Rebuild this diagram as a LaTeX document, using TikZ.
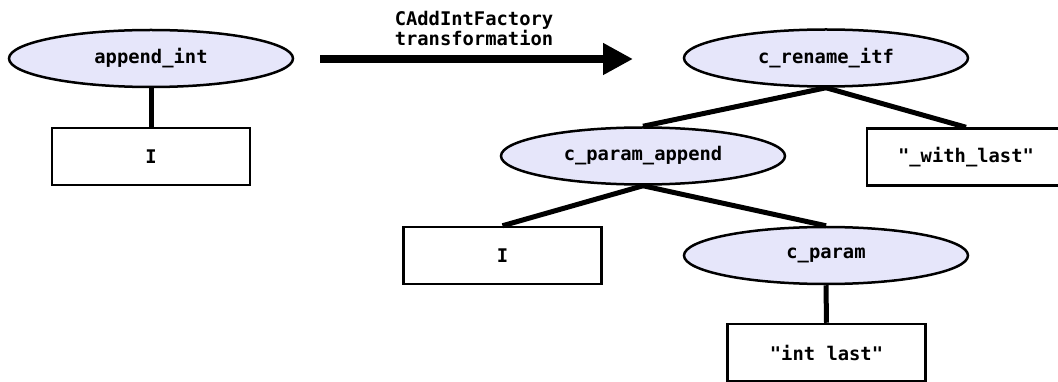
\documentclass[tikz,border=0pt]{standalone}
\usepackage{fontspec}
\setmonofont{DejaVu Sans Mono}
\usetikzlibrary{arrows.meta,shapes.geometric}
\definecolor{lav}{HTML}{E6E6FA}
\begin{document}
\begin{tikzpicture}[x=1pt,y=-1pt,
  every node/.style={font=\ttfamily\bfseries\fontsize{18.8}{20.5}\selectfont},
  oval/.style={ellipse,draw,line width=2.5pt,fill=lav,minimum width=284pt,minimum height=57pt,inner sep=0pt},
  leaf/.style={rectangle,draw,line width=2.5pt,fill=white,minimum width=198pt,minimum height=57pt,inner sep=0pt},
  edge/.style={line width=5pt},
  bigarrow/.style={line width=8pt,-{Triangle[length=30pt,width=30pt]}}]
\useasboundingbox (0,0) rectangle (1058,382);
\clip (0,0) rectangle (1058,382);
% left tree
\node[oval] (ai) at (151,58.5) {append\_int};
\node[leaf] (i1) at (151,156.5) {I};
\draw[edge] (ai.south) -- (i1.north);
% transformation arrow
\coordinate (as) at (320,59);
\coordinate (ae) at (633,59);
\draw[bigarrow] (as) -- (ae);
\node[align=center,inner sep=0pt] (lbl) at (474,28.5) {CAddIntFactory\\transformation};
% right tree
\node[oval] (cr) at (826,58) {c\_rename\_itf};
\node[oval] (cpa) at (643,156) {c\_param\_append};
\node[leaf] (wl) at (966,157) {"\_with\_last"};
\node[leaf] (i2) at (502.5,255.5) {I};
\node[oval] (cp) at (826,255.5) {c\_param};
\node[leaf] (il) at (826.5,352.5) {"int last"};
\draw[edge] (cr.south) -- (cpa.north);
\draw[edge] (cr.south) -- (wl.north);
\draw[edge] (cpa.south) -- (i2.north);
\draw[edge] (cpa.south) -- (cp.north);
\draw[edge] (cp.south) -- (il.north);
\end{tikzpicture}
\end{document}
